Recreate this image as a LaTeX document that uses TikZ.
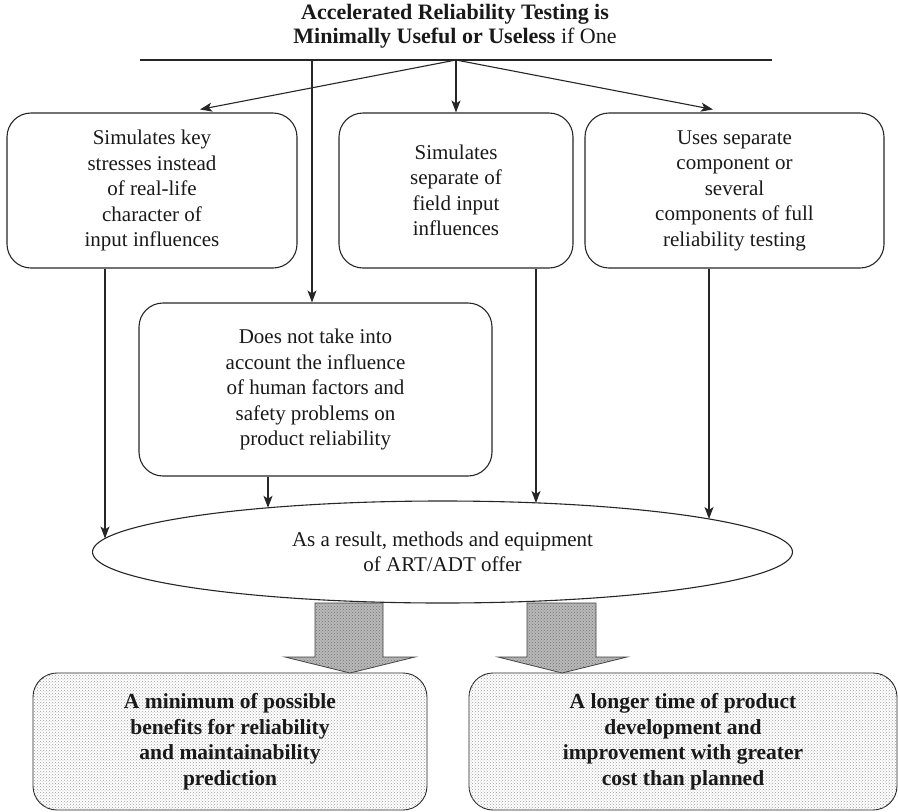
\documentclass[tikz,border=0pt]{standalone}
\usepackage{fontspec}
\setmainfont{Liberation Serif}
\usetikzlibrary{arrows.meta,shapes.geometric,patterns,calc}
\begin{document}
\begin{tikzpicture}[x=1pt,y=-1pt,
  conn/.style={draw=black!85, line width=1.1pt},
  arr/.style={conn, -{Stealth[length=12pt,width=9pt,inset=3pt]}},
  box/.style={draw=black!85, line width=1.1pt, rounded corners=24pt, align=center,
    inner sep=0pt, font=\fontsize{21}{25.5}\selectfont, text=black!90},
  resbox/.style={box, line width=0.9pt, font=\fontsize{21.5}{25.5}\selectfont\bfseries,
    fill=white, postaction={pattern=crosshatch dots, pattern color=gray!75}},
  blockarr/.style={fill=gray!55, draw=black!75, line width=0.8pt,
    postaction={pattern=crosshatch dots, pattern color=black!55}}
]
\useasboundingbox (0,0) rectangle (898,812);

\node[align=center, inner sep=0pt, font=\fontsize{22}{24.5}\selectfont, text=black!90] (title) at (455,26)
  {\textbf{Accelerated Reliability Testing is}\\\textbf{Minimally Useful or Useless} if One};

\coordinate (la) at (140,60);
\coordinate (lb) at (772,60);
\draw[draw=black!85, line width=2.6pt] (la) -- (lb);
\coordinate (fan) at (456,60);
\coordinate (drop) at (312,60);

\node[box, minimum width=290pt, minimum height=155pt] (b1) at (152,190.5)
  {Simulates key\\stresses instead\\of real-life\\character of\\input influences};
\node[box, minimum width=234pt, minimum height=155pt] (b2) at (456,190.5)
  {Simulates\\separate of\\field input\\influences};
\node[box, minimum width=299pt, minimum height=155pt] (b3) at (734.5,190.5)
  {Uses separate\\component or\\several\\components of full\\reliability testing};
\node[box, minimum width=353pt, minimum height=173pt] (b4) at (315.5,389.5)
  {Does not take into\\account the influence\\of human factors and\\safety problems on\\product reliability};

\node[ellipse, draw=black!85, line width=1.1pt, minimum width=700pt, minimum height=102pt,
  inner sep=0pt, outer sep=0pt, align=center, font=\fontsize{21}{25.5}\selectfont, text=black!90]
  (ell) at (442.5,552) {As a result, methods and equipment\\of ART/ADT offer};

\node[resbox, minimum width=394pt, minimum height=137pt] (r1) at (230,741.5)
  {A minimum of possible\\benefits for reliability\\and maintainability\\prediction};
\node[resbox, minimum width=428pt, minimum height=137pt] (r2) at (683,741.5)
  {A longer time of product\\development and\\improvement with greater\\cost than planned};

\draw[arr] (fan) -- ($(b1.north)+(48,-3)$);
\draw[arr] (fan) -- (b2.north);
\draw[arr] (fan) -- ($(b3.north)+(-21.5,-3)$);
\draw[arr] (drop) -- (b4.north -| drop);

\coordinate (e1) at ($(ell.center)+(-337.5,-13.5)$);
\coordinate (e2) at ($(ell.center)+(-174.5,-44.2)$);
\coordinate (e3) at ($(ell.center)+(93.5,-49)$);
\coordinate (e4) at ($(ell.center)+(266.5,-33)$);

\draw[arr] (b1.south -| e1) -- (e1);
\draw[arr] (b4.south -| e2) -- (e2);
\draw[arr] (b2.south -| e3) -- (e3);
\draw[arr] (b3.south -| e4) -- (e4);

\draw[blockarr] (315,603) -- (383,603) -- (383,657) -- (415,657) -- (350,673)
  -- (285,657) -- (315,657) -- cycle;
\draw[blockarr] (527,603) -- (596,603) -- (596,657) -- (627,657) -- (562,673)
  -- (498,657) -- (527,657) -- cycle;
\end{tikzpicture}
\end{document}
